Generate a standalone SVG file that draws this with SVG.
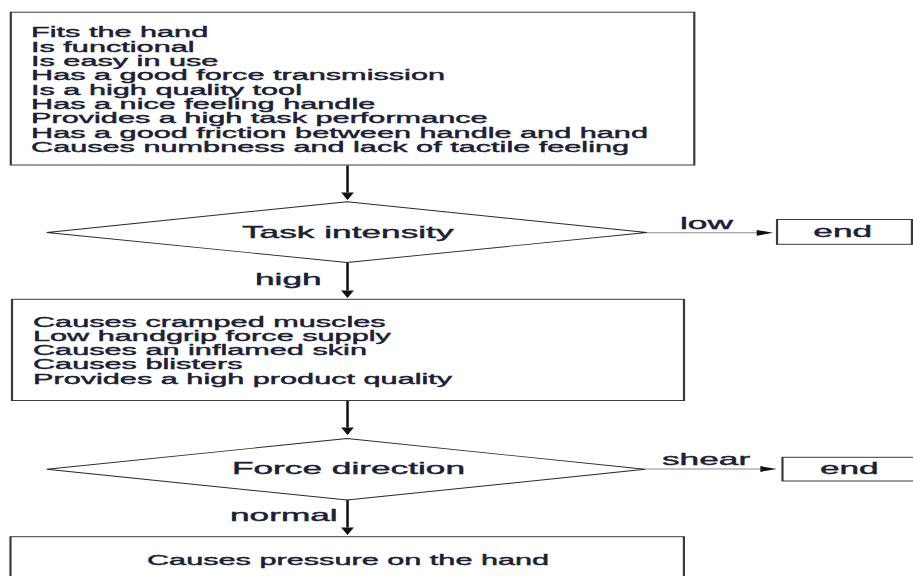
<svg xmlns="http://www.w3.org/2000/svg" width="913" height="576" viewBox="0 0 913 576">
  <style>
    .box { fill: #ffffff; stroke: #3a3a3a; stroke-width: 1; }
    .dia { fill: #ffffff; stroke: #2a2a2a; stroke-width: 0.9; }
    .t14 { font-family: "Liberation Sans", Arial, sans-serif; font-size: 14px; fill: #1b2135; stroke: #1b2135; stroke-width: 0.4; }
    .t16 { font-family: "Liberation Sans", Arial, sans-serif; font-size: 16.1px; fill: #1b2135; stroke: #1b2135; stroke-width: 0.4; }
    .vline { fill: none; stroke: #111111; stroke-width: 1.15; }
    .hline { fill: none; stroke: #8a8a8a; stroke-width: 1; }
  </style>
  <defs>
    <marker id="ah" markerUnits="userSpaceOnUse" markerWidth="8" markerHeight="6" refX="0" refY="2.9" orient="auto" overflow="visible">
      <path d="M0,0 L7.5,2.9 L0,5.8 Z" fill="#111111"/>
    </marker>
  </defs>
  <rect x="0" y="0" width="913" height="576" fill="#ffffff"/>
  <g transform="scale(2.19 1)">
    <g id="connectors">
      <path class="vline" d="M158.68,165.5 V192.5" marker-end="url(#ah)"/>
      <path class="hline" d="M295.3,232.8 H345.5" marker-end="url(#ah)"/>
      <path class="vline" d="M158.68,262.5 V290.5" marker-end="url(#ah)"/>
      <path class="vline" d="M158.68,400.5 V427.5" marker-end="url(#ah)"/>
      <path class="hline" d="M294.5,469 H347.2" marker-end="url(#ah)"/>
      <path class="vline" d="M158.68,500 V527.5" marker-end="url(#ah)"/>
      <text class="t16" x="310.5" y="229">low</text>
      <text class="t16" x="116.44" y="285">high</text>
      <text class="t16" x="302.28" y="465.5">shear</text>
      <text class="t16" x="105.02" y="520.7">normal</text>
    </g>
    <g id="box1">
      <rect class="box" x="4.93" y="12.2" width="312.1" height="152.8"/>
      <text class="t14" x="14.16" y="37.3">Fits the hand<tspan x="14.16" dy="14.35">Is functional</tspan><tspan x="14.16" dy="14.35">Is easy in use</tspan><tspan x="14.16" dy="14.35">Has a good force transmission</tspan><tspan x="14.16" dy="14.35">Is a high quality tool</tspan><tspan x="14.16" dy="14.35">Has a nice feeling handle</tspan><tspan x="14.16" dy="14.35">Provides a high task performance</tspan><tspan x="14.16" dy="14.35">Has a good friction between handle and hand</tspan><tspan x="14.16" dy="14.35">Causes numbness and lack of tactile feeling</tspan></text>
    </g>
    <g id="decision1">
      <polygon class="dia" points="158.5,201.7 21.4,232.5 158.5,262.5 295.3,232.5"/>
      <text class="t16" x="110.5" y="238">Task intensity</text>
    </g>
    <g id="end1">
      <rect class="box" x="354.8" y="219.5" width="61.6" height="24.8"/>
      <text class="t16" x="371.4" y="237.3">end</text>
    </g>
    <g id="box2">
      <rect class="box" x="5.48" y="299.3" width="306.85" height="101.2"/>
      <text class="t14" x="15.07" y="327.2">Causes cramped muscles<tspan x="15.07" dy="14.1">Low handgrip force supply</tspan><tspan x="15.07" dy="14.1">Causes an inflamed skin</tspan><tspan x="15.07" dy="14.1">Causes blisters</tspan><tspan x="15.07" dy="14.1">Provides a high product quality</tspan></text>
    </g>
    <g id="decision2">
      <polygon class="dia" points="158.5,438.5 21.4,469.3 158.5,500 294.5,469.3"/>
      <text class="t16" x="105.94" y="474.5">Force direction</text>
    </g>
    <g id="end2">
      <rect class="box" x="357.3" y="457.3" width="62" height="23.7"/>
      <text class="t16" x="374.4" y="474.3">end</text>
    </g>
    <g id="box3">
      <rect class="box" x="4.79" y="536.7" width="307.5" height="60"/>
      <text class="t14" x="67.12" y="565">Causes pressure on the hand</text>
    </g>
  </g>
</svg>
